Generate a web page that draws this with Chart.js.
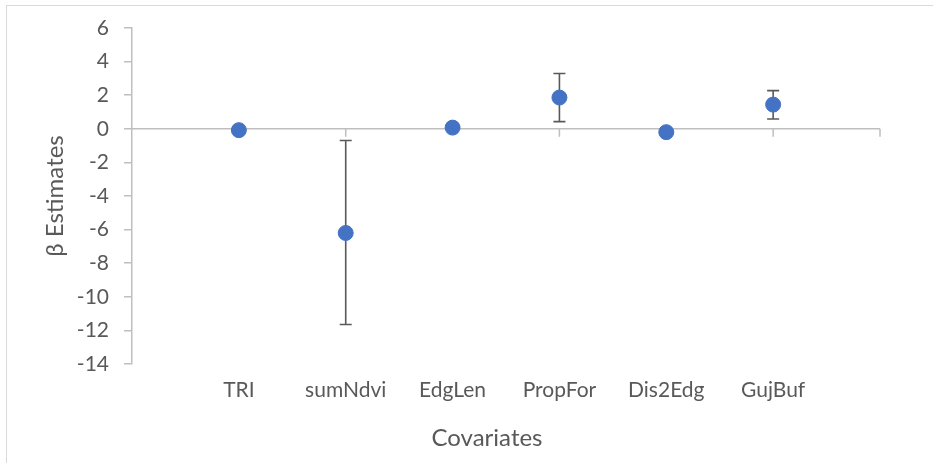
<!DOCTYPE html>
<html>
<head>
<meta charset="utf-8">
<script src="https://cdn.jsdelivr.net/npm/chart.js@4"></script>
<style>
    body { margin: 0; background: #fff; }
    #wrap { position: relative; width: 933px; height: 463px; }
    #frame { position: absolute; left: 6px; top: 5px; right: 0; bottom: 0; border-left: 1px solid #d9d9d9; border-top: 1px solid #d9d9d9; pointer-events: none; }
</style>
</head>
<body>
<div id="wrap">
    <canvas id="chart" width="933" height="463"></canvas>
    <div id="frame"></div>
</div>
<script>
// Data
const covariates = ['TRI', 'sumNdvi', 'EdgLen', 'PropFor', 'Dis2Edg', 'GujBuf'];
const positions = [1, 2, 3, 4, 5, 6];
const estimates = [-0.08, -6.2, 0.07, 1.86, -0.2, 1.44];
const upperCI = [null, -0.7, null, 3.29, null, 2.27];
const lowerCI = [null, -11.65, null, 0.43, null, 0.58];
const xAxisTicks = [2, 4, 6, 7];

const textColor = '#595959';
const axisColor = '#bfbfbf';
const fontFamily = 'Lato, "Open Sans", sans-serif';

// Zero line with its tick marks, plus the error bars (drawn under the points)
const errorBars = {
    id: 'errorBars',
    beforeDatasetsDraw(chart) {
        const { ctx, scales: { x, y } } = chart;
        const y0 = y.getPixelForValue(0);
        ctx.save();
        ctx.strokeStyle = axisColor;
        ctx.lineWidth = 1.5;
        ctx.beginPath();
        ctx.moveTo(x.getPixelForValue(0), y0);
        ctx.lineTo(x.getPixelForValue(7), y0);
        xAxisTicks.forEach((t) => {
            const px = x.getPixelForValue(t);
            ctx.moveTo(px, y0);
            ctx.lineTo(px, y0 + 8);
        });
        ctx.stroke();

        ctx.strokeStyle = '#595959';
        ctx.lineWidth = 1.6;
        positions.forEach((p, i) => {
            if (upperCI[i] === null) return;
            const px = x.getPixelForValue(p);
            const top = y.getPixelForValue(upperCI[i]);
            const bot = y.getPixelForValue(lowerCI[i]);
            ctx.beginPath();
            ctx.moveTo(px, top);
            ctx.lineTo(px, bot);
            ctx.moveTo(px - 6, top);
            ctx.lineTo(px + 6, top);
            ctx.moveTo(px - 6, bot);
            ctx.lineTo(px + 6, bot);
            ctx.stroke();
        });
        ctx.restore();
    },
    afterDraw(chart) {
        const { ctx } = chart;
        ctx.save();
        ctx.fillStyle = textColor;
        ctx.font = '24px ' + fontFamily;
        ctx.textAlign = 'center';
        ctx.textBaseline = 'middle';
        ctx.fillText('Covariates', 487, 438);
        ctx.restore();
    }
};

const ctx = document.getElementById('chart').getContext('2d');
new Chart(ctx, {
    type: 'scatter',
    data: {
        datasets: [{
            label: 'β Estimates',
            data: positions.map((p, i) => ({ x: p, y: estimates[i] })),
            backgroundColor: '#4472c4',
            borderColor: '#4472c4',
            pointRadius: 7.5,
            pointHoverRadius: 7.5,
        }],
    },
    options: {
        responsive: false,
        animation: false,
        layout: { padding: { top: 28, right: 53, left: 0, bottom: 0 } },
        plugins: {
            legend: { display: false },
            tooltip: { enabled: false },
        },
        scales: {
            x: {
                type: 'linear',
                min: 0,
                max: 7,
                grid: { display: false, drawTicks: false },
                border: { display: false },
                ticks: {
                    stepSize: 1,
                    autoSkip: false,
                    maxRotation: 0,
                    padding: 14,
                    color: textColor,
                    font: { family: fontFamily, size: 21 },
                    callback: (v) => covariates[v - 1] || '',
                },
                afterFit: (s) => { s.height = 99; },
            },
            y: {
                min: -14,
                max: 6,
                grid: { drawOnChartArea: false, tickLength: 8, color: axisColor, lineWidth: 1.5 },
                border: { color: axisColor, width: 1.5 },
                ticks: {
                    stepSize: 2,
                    padding: 15,
                    color: textColor,
                    font: { family: fontFamily, size: 21 },
                },
                title: {
                    display: true,
                    text: 'β Estimates',
                    color: textColor,
                    font: { family: fontFamily, size: 24 },
                    padding: { top: 41 },
                },
                afterFit: (s) => { s.width = 132; },
            },
        },
    },
    plugins: [errorBars],
});
</script>
</body>
</html>
